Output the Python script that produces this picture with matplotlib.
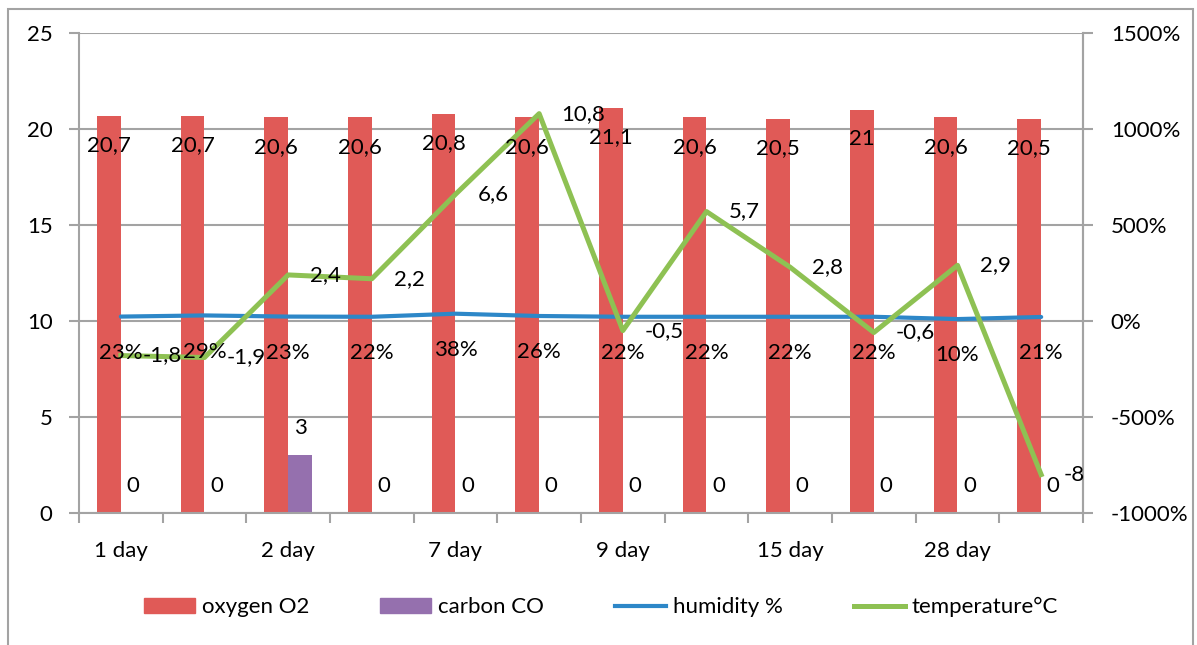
import matplotlib
matplotlib.use('Agg')
import matplotlib.pyplot as plt
import matplotlib.patches as patches
from matplotlib.lines import Line2D
from matplotlib.ticker import FuncFormatter, FixedLocator

plt.rcParams['font.family'] = ['Lato', 'DejaVu Sans']

days = ['1 day', '1 day', '2 day', '2 day', '7 day', '7 day',
        '9 day', '9 day', '15 day', '15 day', '28 day', '28 day']
oxygen = [20.7, 20.7, 20.6, 20.6, 20.8, 20.6, 21.1, 20.6, 20.5, 21, 20.6, 20.5]
carbon = [0, 0, 3, 0, 0, 0, 0, 0, 0, 0, 0, 0]
humidity = [0.23, 0.29, 0.23, 0.22, 0.38, 0.26, 0.22, 0.22, 0.22, 0.22, 0.10, 0.21]
temperature = [-1.8, -1.9, 2.4, 2.2, 6.6, 10.8, -0.5, 5.7, 2.8, -0.6, 2.9, -8]

RED = '#e05a57'
PURPLE = '#9570ae'
BLUE = '#2d87c8'
GREEN = '#8ec153'
GRID = '#a3a3a3'
FS = 16


def comma(v):
    return f'{v:g}'.replace('.', ',')


fig = plt.figure(figsize=(11.97, 6.45), dpi=100)
ax = fig.add_axes([79 / 1197, 132 / 645, 1004 / 1197, 480 / 645])
ax2 = ax.twinx()

x = list(range(len(days)))
w = 0.286
ax.bar([i - w / 2 for i in x], oxygen, width=w, color=RED, zorder=2)
ax.bar([i + w / 2 for i in x], carbon, width=w, color=PURPLE, zorder=2)

ax2.plot(x, humidity, color=BLUE, lw=3.0, solid_capstyle='round', zorder=3)
ax2.plot(x, temperature, color=GREEN, lw=3.6, zorder=4)

ax.set_xlim(-0.5, len(days) - 0.5)
ax.set_ylim(0, 25)
ax.set_yticks(range(0, 26, 5))
ax2.set_ylim(-10, 15)
ax2.set_yticks(range(-10, 16, 5))
ax2.yaxis.set_major_formatter(FuncFormatter(lambda v, p: f'{v * 100:.0f}%'))

# category labels on every second slot, tick marks on the boundaries
ax.xaxis.set_major_locator(FixedLocator(x[::2]))
ax.set_xticklabels(days[::2])
ax.xaxis.set_minor_locator(FixedLocator([i - 0.5 for i in range(len(days) + 1)]))
ax.tick_params(axis='x', which='major', length=0, pad=20, labelsize=FS)
ax.tick_params(axis='x', which='minor', length=7, width=1.5, color=GRID)
ax.tick_params(axis='y', length=7, width=1.5, color=GRID, pad=12, labelsize=FS)
ax2.tick_params(axis='y', length=7, width=1.5, color=GRID, pad=13, labelsize=FS)

ax.grid(axis='y', color=GRID, lw=1.5)
ax.set_axisbelow(True)
for a in (ax, ax2):
    a.spines['top'].set_visible(False)
    for s in ('left', 'right', 'bottom'):
        a.spines[s].set_color(GRID)
        a.spines[s].set_linewidth(1.5)
ax2.spines['left'].set_visible(False)
ax2.spines['bottom'].set_visible(False)

# data labels, all drawn on the top axes so they sit above the lines
for i in x:
    ax2.annotate(comma(oxygen[i]), (i - w / 2, oxygen[i]), xycoords=ax.transData,
                 xytext=(0, -21), textcoords='offset points',
                 ha='center', va='center', fontsize=FS, zorder=6)
    ax2.annotate(comma(carbon[i]), (i + w / 2, carbon[i]), xycoords=ax.transData,
                 xytext=(0, 19.5), textcoords='offset points',
                 ha='center', va='center', fontsize=FS, zorder=6)
    ax2.annotate(f'{round(humidity[i] * 100)}%', (i, humidity[i]),
                 xytext=(0, -26), textcoords='offset points',
                 ha='center', va='center', fontsize=FS, zorder=6)
    ax2.annotate(comma(temperature[i]), (i, temperature[i]),
                 xytext=(16, 0), textcoords='offset points',
                 ha='left', va='center', fontsize=FS, zorder=6)

handles = [
    patches.Patch(color=RED, label='oxygen O2'),
    patches.Patch(color=PURPLE, label='carbon CO'),
    Line2D([], [], color=BLUE, lw=3.0, label='humidity %'),
    Line2D([], [], color=GREEN, lw=3.6, label='temperature°C'),
]
fig.legend(handles=handles, loc='center', bbox_to_anchor=(601 / 1197, 1 - 607 / 645),
           ncol=4, frameon=False, fontsize=FS, handlelength=2.3, handleheight=0.63,
           handletextpad=0.3, columnspacing=3.2)

# chart frame
fig.patches.append(patches.Rectangle((8 / 1197, -0.05), 1185 / 1197, 1.05 - 9 / 645,
                                     transform=fig.transFigure, fill=False,
                                     edgecolor=GRID, lw=1.5))

fig.savefig('out.png', dpi=100)
